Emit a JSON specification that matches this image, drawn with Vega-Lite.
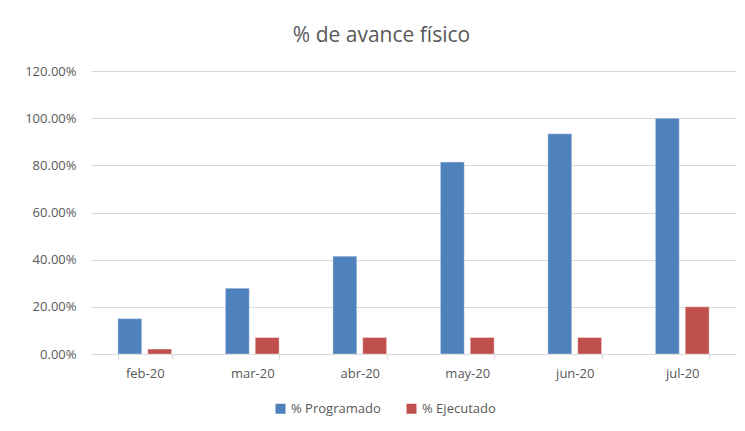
{
  "$schema": "https://vega.github.io/schema/vega-lite/v6.json",
  "width": 645,
  "height": 283,
  "autosize": {"type": "none"},
  "padding": {"left": 91, "top": 71, "right": 9, "bottom": 77},
  "background": "white",
  "title": {
    "text": "% de avance físico",
    "fontSize": 21,
    "font": "Open Sans",
    "fontWeight": "normal",
    "color": "#595959",
    "offset": 19,
    "dx": -32
  },
  "data": {
    "values": [
      {"mes": "feb-20", "serie": "% Programado", "valor": 0.15},
      {"mes": "feb-20", "serie": "% Ejecutado", "valor": 0.021},
      {"mes": "mar-20", "serie": "% Programado", "valor": 0.279},
      {"mes": "mar-20", "serie": "% Ejecutado", "valor": 0.07},
      {"mes": "abr-20", "serie": "% Programado", "valor": 0.415},
      {"mes": "abr-20", "serie": "% Ejecutado", "valor": 0.07},
      {"mes": "may-20", "serie": "% Programado", "valor": 0.814},
      {"mes": "may-20", "serie": "% Ejecutado", "valor": 0.07},
      {"mes": "jun-20", "serie": "% Programado", "valor": 0.934},
      {"mes": "jun-20", "serie": "% Ejecutado", "valor": 0.07},
      {"mes": "jul-20", "serie": "% Programado", "valor": 1.0},
      {"mes": "jul-20", "serie": "% Ejecutado", "valor": 0.2}
    ]
  },
  "mark": {"type": "bar", "stroke": "white", "strokeWidth": 0.6, "strokeOpacity": 0.6},
  "encoding": {
    "x": {
      "field": "mes",
      "type": "nominal",
      "sort": ["feb-20", "mar-20", "abr-20", "may-20", "jun-20", "jul-20"],
      "scale": {"paddingInner": 0.5, "paddingOuter": 0.25},
      "axis": {
        "title": null,
        "labelAngle": 0,
        "tickBand": "extent",
        "tickSize": 5,
        "tickColor": "#d9d9d9",
        "domainColor": "#d9d9d9",
        "domainWidth": 1,
        "labelColor": "#595959",
        "labelFont": "Open Sans",
        "labelFontSize": 13,
        "labelPadding": 8,
        "grid": false
      }
    },
    "xOffset": {
      "field": "serie",
      "type": "nominal",
      "sort": ["% Programado", "% Ejecutado"],
      "scale": {"paddingInner": 0.2, "paddingOuter": 0}
    },
    "y": {
      "field": "valor",
      "type": "quantitative",
      "scale": {"domain": [0, 1.2], "nice": false},
      "axis": {
        "title": null,
        "format": ".2%",
        "values": [0, 0.2, 0.4, 0.6, 0.8, 1.0, 1.2],
        "domain": false,
        "ticks": false,
        "labelPadding": 15,
        "labelColor": "#595959",
        "labelFont": "Open Sans",
        "labelFontSize": 13,
        "gridColor": "#d9d9d9",
        "gridWidth": 1
      }
    },
    "color": {
      "field": "serie",
      "type": "nominal",
      "sort": ["% Programado", "% Ejecutado"],
      "scale": {"domain": ["% Programado", "% Ejecutado"], "range": ["#4f81bd", "#c0504d"]},
      "legend": {
        "title": null,
        "orient": "none",
        "legendX": 183,
        "legendY": 331,
        "direction": "horizontal",
        "symbolType": "square",
        "symbolSize": 100,
        "symbolStrokeWidth": 0,
        "labelColor": "#595959",
        "labelFont": "Open Sans",
        "labelFontSize": 13,
        "columnPadding": 24
      }
    }
  },
  "config": {"view": {"stroke": null}}
}
